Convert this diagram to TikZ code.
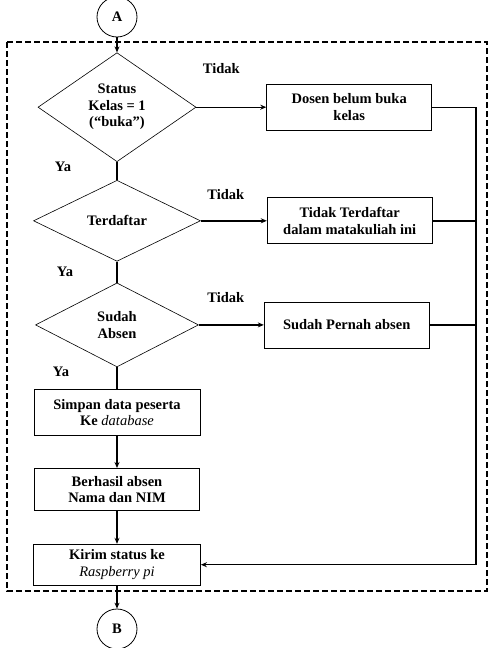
\documentclass[tikz,border=0pt]{standalone}
\usepackage{fontspec}
\setmainfont{Liberation Serif}
\usetikzlibrary{calc, positioning, shapes.geometric}
\usetikzlibrary{arrows.meta}
\tikzstyle{flow-decision}=[
diamond,
draw,
line width=0.6pt,
inner sep=0pt,
align=center,
]
\tikzstyle{flow-box}=[
rectangle,
draw,
line width=0.8pt,
minimum width=165pt,
minimum height=46pt,
align=center,
]
\tikzstyle{flow-end}=[
circle,
draw,
line width=0.8pt,
minimum size=40pt,
inner sep=0pt,
]
\tikzstyle{flow-link}=[line width=1.4pt]
\tikzstyle{flow-label}=[inner sep=0pt]

\begin{document}
\begin{tikzpicture}[font=\fontsize{14.5}{16.5}\selectfont\bfseries, >={Stealth[length=6pt,width=5pt]}]
        \useasboundingbox (-117pt,17pt) rectangle (375pt,-631pt);

        \node[flow-end] (A) at (0,0) {A};
        \node[flow-decision, below=15pt of A, minimum width=158pt, minimum height=109pt] (status) {Status\\Kelas = 1\\(“buka”)};
        \node[flow-decision, below=18pt of status, minimum width=167pt, minimum height=81pt] (terdaftar) {Terdaftar};
        \node[flow-decision, below=21pt of terdaftar, minimum width=163pt, minimum height=84pt] (absen) {Sudah\\Absen};
        \node[flow-box, below=22pt of absen, minimum width=166pt] (simpan) {Simpan data peserta\\Ke {\mdseries\itshape database}};
        \node[flow-box, below=32pt of simpan, minimum height=42pt] (berhasil) {Berhasil absen\\Nama dan NIM};
        \node[flow-box, below=33pt of berhasil, minimum width=167pt, minimum height=41pt] (kirim) {Kirim status ke\\{\mdseries\itshape Raspberry pi}};
        \node[flow-end, below=23pt of kirim] (B) {B};

        \node[flow-box, right=70pt of status] (dosen) {Dosen belum buka\\kelas};
        \node[flow-box, right=66pt of terdaftar] (tidakdaftar) {Tidak Terdaftar\\dalam matakuliah ini};
        \node[flow-box, right=65pt of absen] (pernah) {Sudah Pernah absen};
        \coordinate[right=44pt of dosen.east] (back);

        \node[flow-label] (tidak1) at ($(status.east)+(25pt,39pt)$) {Tidak};
        \node[flow-label] (tidak2) at ($(terdaftar.east)+(25pt,26pt)$) {Tidak};
        \node[flow-label] (tidak3) at ($(absen.east)+(27pt,27pt)$) {Tidak};
        \node[flow-label] (ya1) at ($(status.south)+(-54pt,-5pt)$) {Ya};
        \node[flow-label] (ya2) at ($(terdaftar.south)+(-52pt,-10pt)$) {Ya};
        \node[flow-label] (ya3) at ($(absen.south)+(-56pt,-5pt)$) {Ya};

        \draw[flow-link, ->] (A) -- (status);
        \draw[flow-link] (status) -- (terdaftar);
        \draw[flow-link] (terdaftar) -- (absen);
        \draw[flow-link] (absen) -- (simpan);
        \draw[flow-link, ->] (simpan) -- (berhasil);
        \draw[flow-link, ->] (berhasil) -- (kirim);
        \draw[flow-link, ->] (kirim) -- (B);

        \draw[flow-link, ->] (status) -- (dosen);
        \draw[flow-link, ->] (terdaftar) -- (tidakdaftar);
        \draw[flow-link, ->] (absen) -- (pernah);
        \draw[flow-link, ->] (dosen.east) -- (back) |- (kirim.east);
        \draw[flow-link] (tidakdaftar.east) -- (tidakdaftar.east -| back);
        \draw[flow-link] (pernah.east) -- (pernah.east -| back);

        \draw[dash pattern=on 6pt off 3pt, line width=1.5pt] (-110pt,-25pt) rectangle (370pt,-574pt);
      \end{tikzpicture}
\end{document}
